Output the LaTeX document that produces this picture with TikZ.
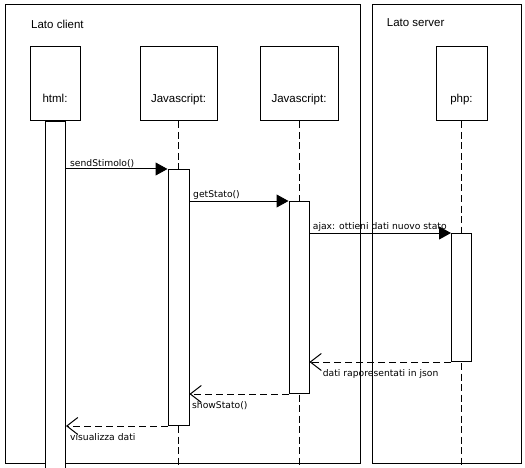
\documentclass[tikz,border=0pt]{standalone}
\usepackage{fontspec}
\setmainfont{Liberation Sans}
\newfontfamily\lblfont{DejaVu Sans}
\usetikzlibrary{arrows.meta}
\tikzset{
  frame/.style={draw, line width=1pt},
  objbox/.style={draw, line width=1pt, fill=white, minimum height=74pt, inner sep=0pt,
    text height=38pt, text depth=0pt, font=\fontsize{11.5}{13}\selectfont},
  actbar/.style={draw, line width=1pt, fill=white, minimum width=20pt, inner sep=0pt, anchor=north},
  lifeline/.style={line width=1pt, dash pattern=on 7pt off 3.5pt},
  callmsg/.style={line width=1pt, -{Triangle[length=12pt,width=13pt]}},
  retmsg/.style={line width=1pt, dash pattern=on 7pt off 4pt, -{Straight Barb[length=11pt,width=17pt,line width=1pt]}},
  msglbl/.style={anchor=base west, inner sep=0pt, font=\lblfont\fontsize{9.2}{11}\selectfont},
  framelbl/.style={anchor=base west, inner sep=0pt, font=\fontsize{11.5}{13}\selectfont},
}
\begin{document}
\begin{tikzpicture}[x=1pt,y=-1pt]
\useasboundingbox (0,0) rectangle (525,468);
% frames
\draw[frame] (5,5) rectangle (360,463);
\draw[frame] (372,5) rectangle (521,463);
\node[framelbl] (lc) at (31,28.3) {Lato client};
\node[framelbl] (ls) at (386.7,26.5) {Lato server};
% object boxes
\node[objbox, minimum width=50pt] (html) at (55,84) {html:};
\node[objbox, minimum width=77pt] (js1) at (178.5,84) {Javascript:};
\node[objbox, minimum width=78pt] (js2) at (299,84) {Javascript:};
\node[objbox, minimum width=51pt] (php) at (461.5,84) {php:};
% bottom
\coordinate (bot) at (0,469);
% lifelines
\draw[lifeline] (js1.south) -- (js1.south |- bot);
\draw[lifeline] (js2.south) -- (js2.south |- bot);
\draw[lifeline] (php.south) -- (php.south |- bot);
% activations
\node[actbar, minimum height=350pt] (ahtml) at (55.5,121) {};
\node[actbar, minimum width=21pt, minimum height=256pt] (a1) at (178.5,169) {};
\node[actbar, minimum height=192pt] (a2) at (299,201) {};
\node[actbar, minimum height=128pt] (a3) at (461.5,233) {};
% calls
\draw[callmsg] (ahtml.east |- a1.north west) -- (a1.north west);
\node[msglbl] (m1) at (70,166.5) {sendStimolo()};
\draw[callmsg] (a1.east |- a2.north west) -- (a2.north west);
\node[msglbl] (m2) at (193,197.5) {getStato()};
\draw[callmsg] (a2.east |- a3.north west) -- (a3.north west);
\node[msglbl] (m3) at (312.7,229.5) {ajax: ottieni dati nuovo stato};
% returns
\draw[retmsg] (a3.south west) -- (a2.east |- a3.south west);
\node[msglbl] (r1) at (322.7,376) {dati raporesentati in json};
\draw[retmsg] (a2.south west) -- (a1.east |- a2.south west);
\node[msglbl] (r2) at (192,408) {showStato()};
\draw[retmsg] (a1.south west) -- (ahtml.east |- a1.south west);
\node[msglbl] (r3) at (70,440) {visualizza dati};
\end{tikzpicture}
\end{document}
